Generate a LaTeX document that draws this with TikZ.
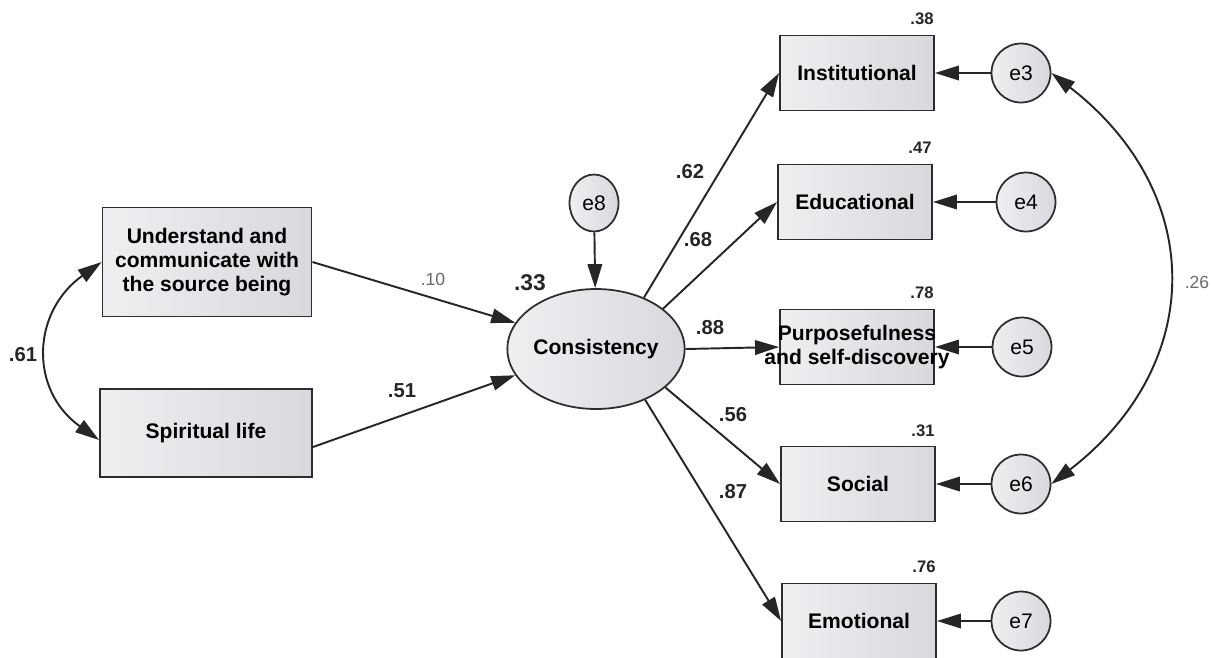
\documentclass[tikz,border=0pt]{standalone}
\usepackage{fontspec}
\setmainfont{Liberation Sans}
\usetikzlibrary{arrows.meta,shapes.geometric}
\definecolor{fillA}{RGB}{238,239,241}
\definecolor{fillB}{RGB}{216,217,221}
\definecolor{edgegray}{RGB}{45,45,45}
\definecolor{lightnum}{RGB}{105,105,105}
\begin{document}
\begin{tikzpicture}[x=0.02cm,y=-0.02cm,
    obs/.style={rectangle,draw=edgegray,line width=1.1pt,left color=fillA,right color=fillB,
        minimum width=3.08cm,minimum height=1.5cm,inner sep=0pt,align=center,
        font=\fontsize{12}{13.6}\selectfont\bfseries},
    lat/.style={ellipse,draw=edgegray,line width=1pt,left color=fillA,right color=fillB,
        minimum width=2.96cm,minimum height=2.4cm,inner sep=0pt,
        font=\fontsize{12}{14}\selectfont\bfseries},
    err/.style={circle,draw=edgegray,line width=1pt,left color=fillA,right color=fillB,
        minimum size=1.18cm,inner sep=0pt,font=\fontsize{12}{14}\selectfont},
    reg/.style={-{Triangle[length=0.48cm,width=0.29cm]},line width=1.1pt,draw=black!85},
    cov/.style={{Triangle[length=0.48cm,width=0.29cm]}-{Triangle[length=0.48cm,width=0.29cm]},line width=1.1pt,draw=black!85},
    coef/.style={font=\fontsize{11.5}{13}\selectfont\bfseries,text=black!85,inner sep=0pt},
    rsq/.style={font=\fontsize{9.5}{11}\selectfont\bfseries,text=black!85,inner sep=0pt},
    faint/.style={font=\fontsize{10}{12}\selectfont,text=lightnum,inner sep=0pt}]
\useasboundingbox (0,0) rectangle (1212,657);
\node[obs,minimum width=4.18cm,minimum height=2.18cm] (und) at (207,262) {Understand and\\communicate with\\the source being};
\node[obs,minimum width=4.24cm,minimum height=1.76cm] (spir) at (206,433) {Spiritual life};
\node[lat] (cons) at (596,349) {Consistency};
\node[err,ellipse,minimum width=0.98cm,minimum height=1.14cm] (e8) at (594,203) {e8};
\node[obs] (inst) at (857,73) {Institutional};
\node[obs] (edu) at (855,202) {Educational};
\node[obs] (purp) at (857,347) {\makebox[0pt]{Purposefulness}\\\makebox[0pt]{and self-discovery}};
\node[obs] (soc) at (858,484) {Social};
\node[obs] (emo) at (859,621) {Emotional};
\node[err] (e3) at (1021,73) {e3};
\node[err] (e4) at (1026,202) {e4};
\node[err] (e5) at (1022,347) {e5};
\node[err] (e6) at (1021,484) {e6};
\node[err] (e7) at (1021,621) {e7};
\draw[reg] (und.east) -- (cons.162);
\draw[reg] ([yshift=-0.28cm]spir.east) -- (cons.198);
\draw[reg] (e8) -- (cons);
\draw[reg] (cons.47) -- (inst.west);
\draw[reg] (cons.31) -- (edu.west);
\draw[reg] (cons.east) -- (purp.west);
\draw[reg] (cons.-29) -- (soc.west);
\draw[reg] (cons.-46) -- (emo.west);
\draw[reg] (e3) -- (inst);
\draw[reg] (e4) -- (edu);
\draw[reg] (e5) -- (purp);
\draw[reg] (e6) -- (soc);
\draw[reg] (e7) -- (emo);
\draw[cov] (und.west) .. controls +(-70,50) and +(-70,-50) .. ([yshift=-0.14cm]spir.west);
\draw[cov] (e3.east) .. controls +(155,120) and +(155,-120) .. (e6.east);
\node[coef] (c61) at (23,355) {.61};
\node[faint] (c10) at (433,279) {.10};
\node[coef] (c51) at (402,391) {.51};
\node[coef,font=\fontsize{13}{15}\selectfont\bfseries] (r33) at (530,283) {.33};
\node[coef] (c62) at (690,172) {.62};
\node[coef] (c68) at (698,240) {.68};
\node[coef] (c88) at (710,328) {.88};
\node[coef] (c56) at (733,415) {.56};
\node[coef] (c87) at (733,492) {.87};
\node[faint] (c26) at (1197,282) {.26};
\node[rsq] (r38) at (922,19) {.38};
\node[rsq] (r47) at (920,148) {.47};
\node[rsq] (r78) at (922,293) {.78};
\node[rsq] (r31) at (923,431) {.31};
\node[rsq] (r76) at (924,567) {.76};
\end{tikzpicture}
\end{document}
